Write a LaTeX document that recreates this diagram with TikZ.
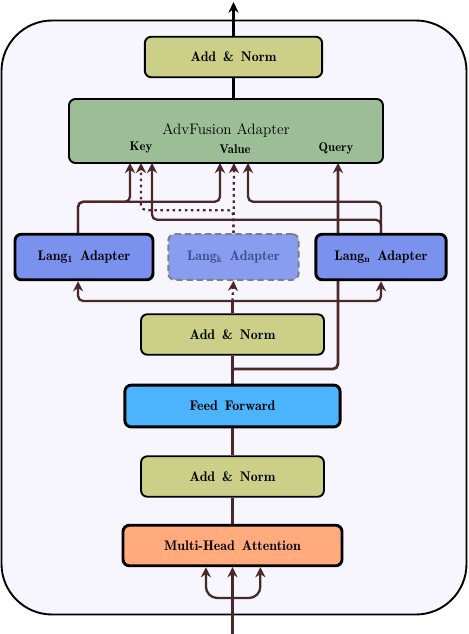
\documentclass[tikz,border=0pt]{standalone}
\usepackage{fontspec}
\usepackage{xcolor}
\usepackage{tikz}
\usetikzlibrary{positioning, calc, arrows.meta}

\newfontfamily\demifont{lmromandemi10-regular.otf}
\newcommand{\blockfont}{\demifont\fontsize{11}{13}\selectfont}

\definecolor{normgreen}{RGB}{204,207,136}
\definecolor{fusiongreen}{RGB}{155,190,150}
\definecolor{adapterblue}{RGB}{123,145,238}
\definecolor{ffblue}{RGB}{76,179,253}
\definecolor{attnorange}{RGB}{255,171,126}
\definecolor{wirebrown}{RGB}{74,40,40}
\definecolor{panelbg}{RGB}{247,245,254}
\definecolor{kgray}{RGB}{66,76,136}

\pgfdeclarelayer{panel}
\pgfdeclarelayer{wires}
\pgfsetlayers{panel,wires,main}

\begin{document}
\begin{tikzpicture}[x=0.79pt, y=-0.79pt,
	block/.style={draw=black, rounded corners=5pt, inner sep=0pt, font=\blockfont, line width=1.5pt},
	normbox/.style={block, fill=normgreen, minimum height=32pt},
	adapterbox/.style={block, fill=adapterblue, line width=2.3pt, minimum width=103pt, minimum height=36pt},
	portlabel/.style={font=\demifont\fontsize{10}{12}\selectfont},
	wire/.style={draw=wirebrown, line width=1.8pt, rounded corners=4pt},
	arr/.style={wire, -{Stealth[length=8pt, width=8pt]}},
	dots/.style={dash pattern=on 2pt off 2.8pt}]

	\useasboundingbox (0,0) rectangle (468,634);

	% blocks, top to bottom
	\node[normbox, minimum width=140pt] (addtop) at (233.5,57) {Add \,\& \,Norm};
	\node[block, fill=fusiongreen, minimum width=248pt, minimum height=50.5pt, font=\fontsize{12}{14}\selectfont] (fusion) at (226,131) {AdvFusion Adapter};
	\node[portlabel] (key) at (141,147) {Key};
	\node[portlabel] (val) at (235,149) {Value};
	\node[portlabel] (qry) at (336,148) {Query};

	\node[adapterbox, minimum width=109pt] (lang1) at (84,257) {Lang\textsubscript{1} \,Adapter};
	\node[adapterbox, draw=gray, line width=1.6pt, dash pattern=on 5pt off 3pt, fill=adapterblue!90!white, text=kgray] (langk) at (233.5,257) {Lang\textsubscript{k} \,Adapter};
	\node[adapterbox] (langn) at (381,257) {Lang\textsubscript{n} \,Adapter};

	\node[normbox, minimum width=144.5pt] (addmid) at (232.5,334.5) {Add \,\& \,Norm};
	\node[block, fill=ffblue, line width=2.3pt, minimum width=170pt, minimum height=33pt] (ff) at (232.5,406) {Feed \,Forward};
	\node[normbox, minimum width=144.5pt] (addlow) at (232.5,476.5) {Add \,\& \,Norm};
	\node[block, fill=attnorange, line width=2.3pt, minimum width=173pt, minimum height=32pt] (mha) at (232.5,545.5) {Multi-Head \,Attention};

	\coordinate (out) at (233.5,2);
	\coordinate (in) at (232.5,634);
	\coordinate (split) at (232.5,598);
	\coordinate (qfork) at (232.5,369);
	\coordinate (fork) at (232.5,301);
	\foreach \n/\x in {k1/130, k2/141, k3/152, v1/220, v2/234, v3/248, q/338}
		\coordinate (\n) at (\x,163);

	\begin{pgfonlayer}{panel}
		\draw[fill=panelbg, line width=1.5pt, rounded corners=40pt] (1.5,20.5) rectangle (466.5,614.5);
	\end{pgfonlayer}

	\begin{pgfonlayer}{wires}
		\draw[line width=2.3pt, -{Stealth[length=8.5pt, width=8pt]}] (addtop.north) -- (out);
		\draw[line width=2.3pt] (addtop.south) -- (fusion.north -| addtop);

		% input into attention
		\draw[arr] (in) -- (mha.south);
		\draw[arr, rounded corners=9pt] (split) -| ([xshift=-21pt]mha.south);
		\draw[arr, rounded corners=9pt] (split) -| ([xshift=22pt]mha.south);

		% spine
		\draw[wire] (mha.north) -- (addlow.south);
		\draw[wire] (addlow.north) -- (ff.south);
		\draw[wire] (ff.north) -- (addmid.south);
		\draw[arr, line width=2.2pt] (qfork) -| (q);

		% into the adapters
		\draw[wire] (addmid.north) -- (fork);
		\draw[arr] (fork) -| ([xshift=-4.7pt]lang1.south);
		\draw[arr] (fork) -| (langn.south);
		\draw[arr, dots] (fork) -- (langk.south);

		% out of the adapters
		\draw[arr] ([xshift=-4.7pt]lang1.north) -- ++(0,-31) -| (v1);
		\draw[arr] ([xshift=-4.7pt]lang1.north) -- ++(0,-31) -| (k1);
		\draw[arr, dots] (langk.north) -- (v2);
		\draw[arr, dots] (langk.north) -- ++(0,-23) -| (k2);
		\draw[arr] (langn.north) -- ++(0,-31) -| (v3);
		\draw[arr] (langn.north) -- ++(0,-13) -| (k3);
	\end{pgfonlayer}
\end{tikzpicture}
\end{document}
